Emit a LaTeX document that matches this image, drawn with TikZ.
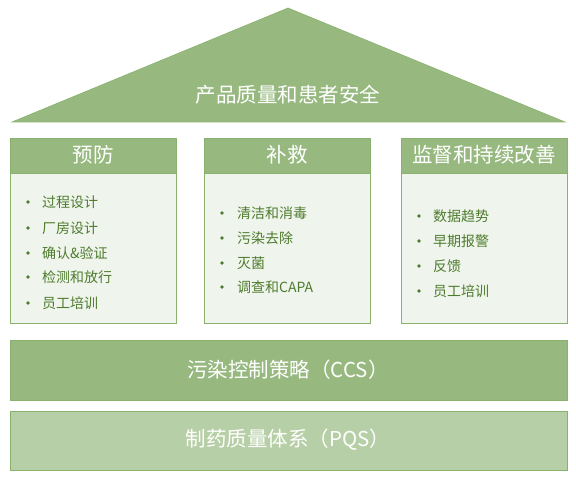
\documentclass[tikz,border=0pt]{standalone}
\usepackage{fontspec}
\setmainfont{Noto Sans CJK SC}
\usetikzlibrary{positioning}
\definecolor{toit}{RGB}{151,185,128}
\definecolor{bord}{RGB}{138,178,110}
\definecolor{fond}{RGB}{239,244,236}
\definecolor{socle}{RGB}{183,207,166}
\definecolor{texte}{RGB}{78,124,46}

\begin{document}
\begin{tikzpicture}[x=1pt,y=-1pt,
    titre/.style={font=\fontsize{20.5}{24}\selectfont,text=white},
    item/.style={font=\fontsize{14}{16}\selectfont,text=texte,anchor=west,inner sep=0pt}]
    \useasboundingbox (0,0) rectangle (576,481);
    % toit : 8 -> 122
    \fill[toit,draw=bord,line width=0.6pt](12,122)--(288,8)--(565,122)--cycle;
    \node[titre] (toit) at (288,95){产品质量和患者安全};
    % piliers, largeur 166
    \foreach \x/\nom/\txt in {10/prev/预防,204/corr/补救,401/surv/监督和持续改善}{
      \fill[fond,draw=bord](\x,138) rectangle (\x+166,323);
      \fill[toit,draw=bord](\x,138) rectangle (\x+166,173);
      \node[titre] (\nom) at (\x+83,155){\txt};}
    \foreach \y/\t [count=\i] in {202/过程设计,228/厂房设计,253/确认\&验证,277/检测和放行,303/员工培训}{
      \fill[texte](28,\y) circle (1.8);
      \node[item] (prev\i) at (42,\y){\t};}
    \foreach \y/\t [count=\i] in {213/清洁和消毒,238/污染去除,263/灭菌,287/调查和CAPA}{
      \fill[texte](222,\y) circle (1.8);
      \node[item] (corr\i) at (237,\y){\t};}
    \foreach \y/\t [count=\i] in {216/数据趋势,241/早期报警,266/反馈,291/员工培训}{
      \fill[texte](419,\y) circle (1.8);
      \node[item] (surv\i) at (433,\y){\t};}
    % socles
    \fill[toit,draw=bord](10,340) rectangle (567,400);
    \node[titre] (ccs) at (288,370){污染控制策略（CCS）};
    \fill[socle,draw=bord](10,411) rectangle (567,470);
    \node[titre] (pqs) at (288,440){制药质量体系（PQS）};
  \end{tikzpicture}
\end{document}
